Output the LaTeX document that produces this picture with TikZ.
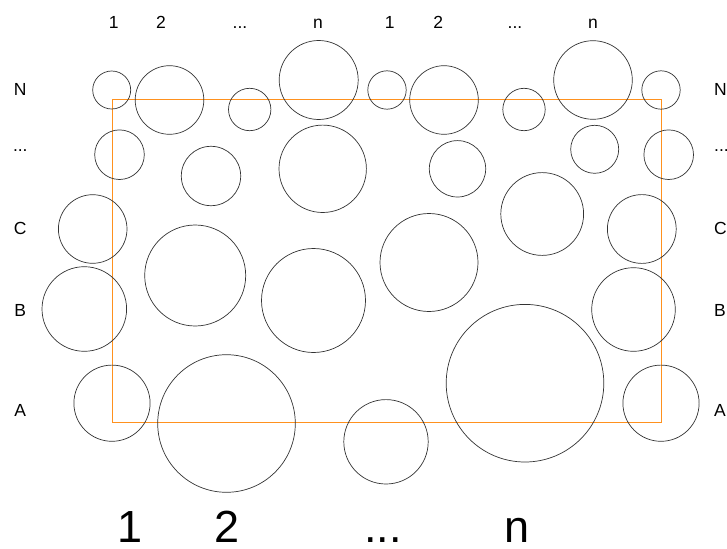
\documentclass[tikz,border=0pt]{standalone}
\usepackage{fontspec}
\setmainfont{Liberation Sans}
\definecolor{rectorange}{RGB}{255,145,30}
\begin{document}
\begin{tikzpicture}[x=1pt,y=-1pt,
  bub/.style={circle,draw=black!80,line width=0.7pt,inner sep=0pt,minimum size=#1},
  small/.style={font=\fontsize{17.5}{20}\selectfont,inner sep=0pt},
  big/.style={font=\fontsize{45}{50}\selectfont,inner sep=0pt,anchor=base}]
\useasboundingbox (0,0) rectangle (727,548);
% frame
\draw[rectorange,line width=1pt] (112.7,99.3) rectangle (661,422.7);
% circles
\node[bub=38pt]   (c1)  at (111.7,90) {};
\node[bub=68.6pt] (c2)  at (169.5,100) {};
\node[bub=42.4pt] (c3)  at (249.7,109.5) {};
\node[bub=79pt]   (c4)  at (318.7,80) {};
\node[bub=38.4pt] (c5)  at (387,90) {};
\node[bub=68.6pt] (c6)  at (444,100) {};
\node[bub=42.4pt] (c7)  at (524,109.5) {};
\node[bub=78.6pt] (c8)  at (593,80) {};
\node[bub=38.4pt] (c9)  at (661,90) {};
\node[bub=49.6pt] (c10) at (119.5,154.7) {};
\node[bub=59.4pt] (c11) at (211,176) {};
\node[bub=87.4pt] (c12) at (322.7,168.8) {};
\node[bub=56.4pt] (c13) at (457.5,168.8) {};
\node[bub=48pt]   (c14) at (594.7,149.3) {};
\node[bub=49.6pt] (c15) at (668.7,154.7) {};
\node[bub=68.6pt] (c16) at (92.7,229) {};
\node[bub=82.8pt] (c17) at (542.2,214) {};
\node[bub=68.8pt] (c18) at (641.8,229) {};
\node[bub=101pt]  (c19) at (195.2,275.5) {};
\node[bub=98pt]   (c20) at (429,262.5) {};
\node[bub=84.6pt] (c21) at (84.3,309) {};
\node[bub=104pt]  (c22) at (313.5,300.5) {};
\node[bub=83.6pt] (c23) at (633.5,309.5) {};
\node[bub=76.2pt] (c24) at (112,403.2) {};
\node[bub=137.6pt](c25) at (226.5,423.5) {};
\node[bub=84.4pt] (c26) at (386,441.8) {};
\node[bub=157.6pt](c27) at (525,383.2) {};
\node[bub=76.2pt] (c28) at (661,403.2) {};
% top labels
\node[small,anchor=base] (t1) at (113.7,29) {1};
\node[small,anchor=base] (t2) at (161,29) {2};
\node[small,anchor=base] (t3) at (240,29) {...};
\node[small,anchor=base] (t4) at (318,29) {n};
\node[small,anchor=base] (t5) at (389.7,29) {1};
\node[small,anchor=base] (t6) at (438.3,29) {2};
\node[small,anchor=base] (t7) at (515,29) {...};
\node[small,anchor=base] (t8) at (593,29) {n};
% left labels
\node[small,anchor=base] (lN) at (20.3,96) {N};
\node[small,anchor=base] (lD) at (20.3,152) {...};
\node[small,anchor=base] (lC) at (20.3,234.5) {C};
\node[small,anchor=base] (lB) at (20.3,316.5) {B};
\node[small,anchor=base] (lA) at (20.3,416.5) {A};
% right labels
\node[small,anchor=base west] (rN) at (714,96) {N};
\node[small,anchor=base west] (rD) at (714,152) {...};
\node[small,anchor=base west] (rC) at (714,234.5) {C};
\node[small,anchor=base west] (rB) at (714,316.5) {B};
\node[small,anchor=base west] (rA) at (714,416.5) {A};
% bottom labels
\node[big] (b1) at (130,542) {1};
\node[big] (b2) at (227.5,542) {2};
\node[big] (b3) at (383,542) {...};
\node[big] (b4) at (517,542) {n};
\end{tikzpicture}
\end{document}
